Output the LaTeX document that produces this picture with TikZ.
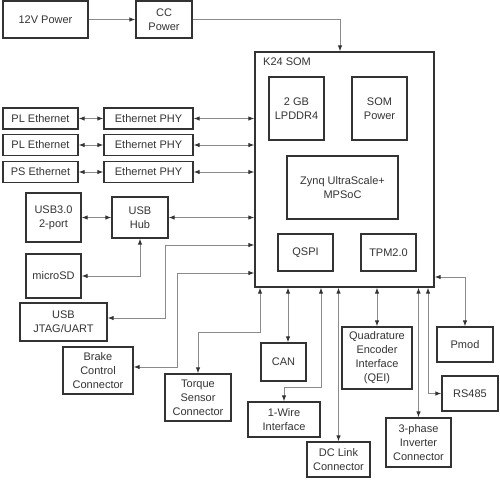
\documentclass[tikz,border=0pt]{standalone}
\usepackage{fontspec}
\setmainfont{Liberation Sans}
\usetikzlibrary{arrows.meta}
\definecolor{boxc}{HTML}{333333}
\definecolor{wirec}{HTML}{8A8A8A}

\begin{document}
\begin{tikzpicture}[x=1pt,y=-1pt,
		font=\fontsize{11}{14}\selectfont,text=boxc,
		blk/.style 2 args={draw=boxc,line width=1.3pt,align=center,inner sep=1pt,minimum width=#1,minimum height=#2},
		wire/.style={draw=wirec,line width=1pt},
		>={Latex[length=6pt,width=4.5pt,color=boxc]}]
				\useasboundingbox (0,0) rectangle (500,480);
				\node[blk={85}{37}] (pwr) at (45.5,19.5) {12V Power};
				\node[blk={56}{37}] (cc) at (164,19.5) {CC\\Power};
				\node[blk={179}{235}] (som) at (344.5,169.5) {};
				\node[anchor=west,inner sep=0pt] (somlbl) at (263,62) {K24 SOM};
				\node[blk={55}{63}] (ddr) at (296.5,108.5) {2 GB\\LPDDR4};
				\node[blk={55}{63}] (smp) at (379.5,108.5) {SOM\\Power};
				\node[blk={111}{63}] (zynq) at (342.5,187.5) {Zynq UltraScale+\\MPSoC};
				\node[blk={55}{37}] (qspi) at (305.5,252.5) {QSPI};
				\node[blk={55}{37}] (tpm) at (388.5,252.5) {TPM2.0};
				\node[blk={75}{21}] (ple1) at (40.5,118.5) {PL Ethernet};
				\node[blk={89}{21}] (phy1) at (148.5,118.5) {Ethernet PHY};
				\node[blk={75}{21}] (ple2) at (40.5,145) {PL Ethernet};
				\node[blk={89}{21}] (phy2) at (148.5,145) {Ethernet PHY};
				\node[blk={75}{21}] (pse) at (40.5,172) {PS Ethernet};
				\node[blk={89}{21}] (phy3) at (148.5,172) {Ethernet PHY};
				\node[blk={55}{49}] (usb3) at (53.5,217.5) {USB3.0\\2-port};
				\node[blk={56}{41}] (hub) at (140,217.5) {USB\\Hub};
				\node[blk={55}{44}] (sd) at (53.5,276) {microSD};
				\node[blk={87}{38}] (jtag) at (63.5,322) {USB\\JTAG/UART};
				\node[blk={70}{47}] (brake) at (98,370.5) {Brake\\Control\\Connector};
				\node[blk={66}{47}] (torque) at (198,397.5) {Torque\\Sensor\\Connector};
				\node[blk={45}{38}] (can) at (283.5,362) {CAN};
				\node[blk={72}{35}] (onew) at (284,419.5) {1-Wire\\Interface};
				\node[blk={63}{35}] (dcl) at (338.5,459.5) {DC Link\\Connector};
				\node[blk={70}{62}] (qei) at (377,358) {Quadrature\\Encoder\\Interface\\(QEI)};
				\node[blk={65}{49}] (inv) at (418.5,442.5) {3-phase\\Inverter\\Connector};
				\node[blk={56}{35}] (rs) at (470,393.5) {RS485};
				\node[blk={56}{35}] (pmod) at (465,344.5) {Pmod};
				\draw[wire,->] (pwr) -- (cc);
				\draw[wire,->] (cc) -| (som.north -| 340,0);
				\draw[wire,<->] (ple1) -- (phy1);
				\draw[wire,<->] (ple2) -- (phy2);
				\draw[wire,<->] (pse) -- (phy3);
				\draw[wire,<->] (phy1) -- (som.west |- phy1);
				\draw[wire,<->] (phy2) -- (som.west |- phy2);
				\draw[wire,<->] (phy3) -- (som.west |- phy3);
				\draw[wire,<->] (usb3) -- (hub);
				\draw[wire,<->] (hub) -- (som.west |- hub);
				\draw[wire,<->] (sd) -| (hub);
				\draw[wire,<->] (jtag.east |- 0,318) -| (165,245) -- (som.west |- 0,245);
				\draw[wire,<->] (brake.east |- 0,367) -| (177,273) -- (som.west |- 0,273);
				\draw[wire,<->] (torque) |- (260,332) -- (som.south -| 260,0);
				\draw[wire,<->] (can.north -| 288,0) -- (som.south -| 288,0);
				\draw[wire,<->] (som.south -| 321,0) |- (284,387) -- (onew);
				\draw[wire,<->] (dcl) -- (som.south -| dcl);
				\draw[wire,<->] (qei) -- (som.south -| qei);
				\draw[wire,<->] (inv) -- (som.south -| inv);
				\draw[wire,<->] (som.south -| 428,0) |- (rs);
				\draw[wire,<->] (som.east |- 0,277) -| (pmod);
			\end{tikzpicture}
\end{document}
